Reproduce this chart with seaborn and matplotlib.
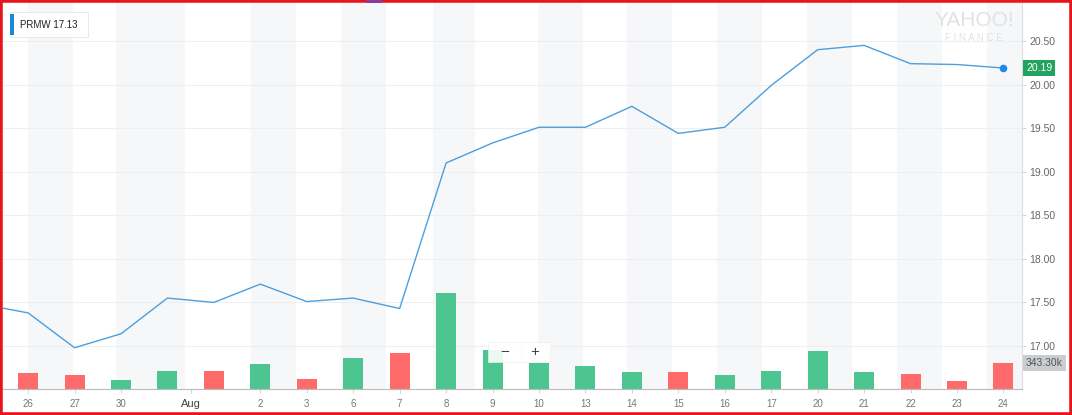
import numpy as np
import pandas as pd
import matplotlib
matplotlib.use("Agg")
import matplotlib.pyplot as plt
from matplotlib.patches import Rectangle
from matplotlib.transforms import blended_transform_factory
import seaborn as sns

# daily data, last trading days of July to Aug 24
day_labels = ['26', '27', '30', '', '', '2', '3', '6', '7', '8', '9', '10',
              '13', '14', '15', '16', '17', '20', '21', '22', '23', '24']
# close prices, the first value is the session before the 26th (cut off at the left edge)
prev_close = 17.48
closes = [17.38, 16.98, 17.14, 17.55, 17.50, 17.71, 17.51, 17.55, 17.43, 19.10,
          19.33, 19.51, 19.51, 19.75, 19.44, 19.51, 19.99, 20.40, 20.45, 20.24,
          20.23, 20.19]
# volumes in thousands
volumes = [211, 185, 119, 238, 238, 330, 132, 409, 475, 1267, 515, 343,
           304, 224, 224, 185, 238, 502, 224, 198, 106, 343.3]
# bar colour: up / down day
direction = ['down', 'down', 'up', 'up', 'down', 'up', 'down', 'up', 'down', 'up',
             'up', 'up', 'up', 'up', 'down', 'up', 'up', 'up', 'up', 'down',
             'down', 'down']
y_ticks = [17.0, 17.5, 18.0, 18.5, 19.0, 19.5, 20.0, 20.5]

GREEN = '#4dc590'
RED = '#ff6b6b'
LINE = '#4c9fdc'

n = len(closes)
price_df = pd.DataFrame({'idx': np.arange(-1, n), 'close': [prev_close] + closes})
vol_df = pd.DataFrame({'idx': np.arange(n), 'volume': volumes, 'dir': direction})

sns.set_theme(style="white")
plt.rcParams['font.family'] = ['Liberation Sans', 'DejaVu Sans']

W, H = 1072, 415
fig = plt.figure(figsize=(W / 100, H / 100), dpi=100)
ax = fig.add_axes([3 / W, (H - 389) / H, (1022 - 3) / W, (389 - 3) / H])
ax.set_facecolor('white')

# light day bands
bands = [(0, 0.97), (1.89, 3.38), (4.8, 5.76), (6.73, 7.7), (8.71, 9.63),
         (10.97, 11.94), (12.9, 13.87), (14.84, 15.8), (16.77, 17.74),
         (18.7, 19.68), (20.65, 22)]

# volume on a twin axis (drawn below the price axis)
vax = ax.twinx()
vax.set_zorder(1)
ax.set_zorder(2)
ax.patch.set_visible(False)
ax.set_xlim(-0.54, 21.4)
ax.set_ylim(17.0 - 43 / 87.14, 20.5 + 38 / 87.14)

for a, b in bands:
    vax.axvspan(a, b, color='#f6f7f8', lw=0, zorder=0)
grid_tr = blended_transform_factory(vax.transAxes, ax.transData)
for yt in y_ticks:
    vax.plot([0, 1], [yt, yt], transform=grid_tr, color='#efefef', lw=0.8, zorder=0.5)

sns.barplot(data=vol_df, x='idx', y='volume', native_scale=True, color=GREEN,
            width=0.43, ax=vax, saturation=1, errorbar=None, zorder=2)
for bar, d in zip(vax.patches[len(vax.patches) - n:], direction):
    bar.set_facecolor(GREEN if d == 'up' else RED)
    bar.set_edgecolor('none')
vax.set_ylim(0, 386 * 13.2)
vax.set_xlim(-0.54, 21.4)
vax.set_xlabel('')
vax.set_ylabel('')
vax.set_yticks([])
for s in vax.spines.values():
    s.set_visible(False)

sns.lineplot(data=price_df, x='idx', y='close', color=LINE, lw=1.0, ax=ax)
ax.scatter([n - 1], [closes[-1]], s=30, color='#1e88e5', zorder=5, lw=0)

ax.set_xlim(-0.54, 21.4)
ax.set_ylim(17.0 - 43 / 87.14, 20.5 + 38 / 87.14)
ax.set_xlabel('')
ax.set_ylabel('')

# x ticks
xt = [i for i in range(n) if day_labels[i]] + [3.5]
xl = [l for l in day_labels if l] + ['Aug']
ax.set_xticks(xt)
ax.set_xticklabels(xl)
for lab in ax.get_xticklabels():
    if lab.get_text() == 'Aug':
        lab.set_color('#444444')
        lab.set_fontsize(8)
    else:
        lab.set_color('#777777')
        lab.set_fontsize(7)
ax.tick_params(axis='x', length=3, width=0.6, color='#cccccc', pad=4, bottom=True)
vax.tick_params(axis='x', bottom=False, labelbottom=False)

ax.yaxis.tick_right()
ax.set_yticks(y_ticks)
ax.set_yticklabels([f'{v:.2f}' for v in y_ticks], color='#666666', fontsize=7.5)
ax.tick_params(axis='y', length=3, width=0.6, color='#cccccc', pad=2, right=True)

for s in ['left', 'top']:
    ax.spines[s].set_visible(False)
ax.spines['bottom'].set_color('#bbbbbb')
ax.spines['bottom'].set_linewidth(0.8)
ax.spines['right'].set_color('#dddddd')
ax.spines['right'].set_linewidth(0.8)

# price tag and volume tag
tr = blended_transform_factory(ax.transAxes, ax.transData)
ax.text(1.004, closes[-1], f'{closes[-1]:.2f}', transform=tr, color='white',
        fontsize=7.5, va='center', ha='left', zorder=10,
        bbox=dict(boxstyle='square,pad=0.25', fc='#22a35f', ec='none'))
vtr = blended_transform_factory(vax.transAxes, vax.transData)
vax.text(1.004, volumes[-1], f'{volumes[-1]:.2f}k', transform=vtr, color='#555555',
         fontsize=7.5, va='center', ha='left', zorder=10,
         bbox=dict(boxstyle='square,pad=0.25', fc='#c9cdd1', ec='none'))

# legend box
fig.patches.append(Rectangle((10 / W, 1 - 37 / H), 78 / W, 25 / H, transform=fig.transFigure,
                             fc='white', ec='#e6e6e6', lw=0.6, zorder=10))
fig.patches.append(Rectangle((10 / W, 1 - 35 / H), 4 / W, 21 / H, transform=fig.transFigure,
                             fc='#1a87d8', ec='none', zorder=11))
fig.text(20 / W, 1 - 25 / H, 'PRMW 17.13', fontsize=7, color='#222222', va='center', zorder=12)

# watermark
fig.text(974 / W, 1 - 20 / H, 'YAHOO!', fontsize=15, color='#e2e2e2', ha='center',
         va='center', zorder=30)
fig.text(974 / W, 1 - 38 / H, 'F I N A N C E', fontsize=7, color='#e2e2e2', ha='center',
         va='center', zorder=30)

# zoom control
fig.patches.append(Rectangle((488 / W, 1 - 362 / H), 62 / W, 20 / H, transform=fig.transFigure,
                             fc='white', ec='#eeeeee', lw=0.5, alpha=0.9, zorder=10))
fig.text(505 / W, 1 - 352 / H, '−', fontsize=11, color='#444444', ha='center', va='center', zorder=11)
fig.text(535 / W, 1 - 352 / H, '+', fontsize=11, color='#444444', ha='center', va='center', zorder=11)
fig.add_artist(plt.Line2D([521 / W, 521 / W], [1 - 358 / H, 1 - 346 / H], color='#dddddd', lw=0.8))

# red frame
fig.patches.append(Rectangle((0, 0), 1, 1, transform=fig.transFigure, fill=False,
                             ec='#e8141b', lw=4, zorder=20))
fig.patches.append(Rectangle((366 / W, 1 - 3 / H), 16 / W, 3 / H, transform=fig.transFigure,
                             fc='#8a3a9a', ec='none', zorder=21))

fig.savefig('out.png', dpi=100)
